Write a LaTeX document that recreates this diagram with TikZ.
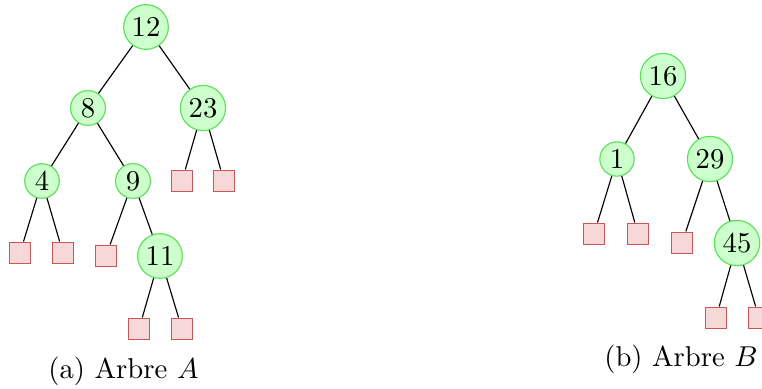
\documentclass[tikz,border=0pt]{standalone}
\usepackage{amssymb}

\definecolor{noeudbord}{RGB}{90,225,90}
\definecolor{noeudfond}{RGB}{204,255,204}
\definecolor{feuillebord}{RGB}{205,85,85}
\definecolor{feuillefond}{RGB}{246,216,216}

\tikzset{
  inner/.style={circle, draw=noeudbord, fill=noeudfond, inner sep=1.3pt},
  leaf/.style={rectangle, draw=feuillebord, fill=feuillefond, minimum size=7.6pt, inner sep=0pt}
}

\begin{document}
\begin{tikzpicture}[x=0.3484pt, y=-0.3484pt]
\useasboundingbox (0,0) rectangle (762,389);

% Arbre A
\node[inner] (a12) at (146,27) {12};
\node[inner] (a8) at (88,108) {8};
\node[inner] (a23) at (203,108) {23};
\node[inner] (a4) at (42,181) {4};
\node[inner] (a9) at (133,181) {9};
\node[inner] (a11) at (160,256) {11};
\node[leaf] (la1) at (20,253) {};
\node[leaf] (la2) at (63,253) {};
\node[leaf] (la3) at (106,256) {};
\node[leaf] (la4) at (139,329) {};
\node[leaf] (la5) at (182,329) {};
\node[leaf] (la6) at (182,181) {};
\node[leaf] (la7) at (224,181) {};
\foreach \p/\c in {a12/a8, a12/a23, a8/a4, a8/a9, a4/la1, a4/la2, a9/la3, a9/a11, a11/la4, a11/la5, a23/la6, a23/la7}
  \draw (\p) -- (\c);
\node (capA) at (123.5,371) {(a) Arbre $A$};

% Arbre B
\node[inner] (b16) at (663,76) {16};
\node[inner] (b1) at (617,159) {1};
\node[inner] (b29) at (710,159) {29};
\node[inner] (b45) at (737,243) {45};
\node[leaf] (lb1) at (594,234) {};
\node[leaf] (lb2) at (638,234) {};
\node[leaf] (lb3) at (682,243) {};
\node[leaf] (lb4) at (716,318) {};
\node[leaf] (lb5) at (759,318) {};
\foreach \p/\c in {b16/b1, b16/b29, b1/lb1, b1/lb2, b29/lb3, b29/b45, b45/lb4, b45/lb5}
  \draw (\p) -- (\c);
\node (capB) at (681,359) {(b) Arbre $B$};
\end{tikzpicture}
\end{document}
